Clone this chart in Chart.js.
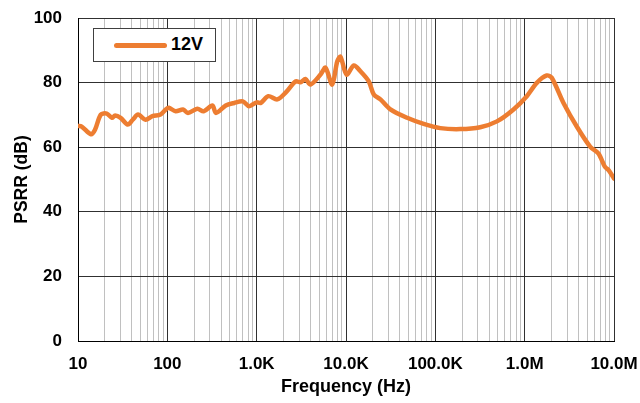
<!DOCTYPE html>
<html><head><meta charset="utf-8">
<script src="https://cdn.jsdelivr.net/npm/chart.js@4"></script>
<style>
html,body{margin:0;padding:0;background:#fff;}
#wrap{position:relative;width:640px;height:403px;}
#legend{position:absolute;left:93px;top:28px;width:123px;height:34px;border:1px solid #404040;background:#fff;box-sizing:border-box;font:bold 18px "Liberation Sans",Arial,sans-serif;color:#000;}
#legend .ln{position:absolute;left:20px;top:14px;width:53px;height:5px;border-radius:3px;background:#ED7D31;}
#legend .tx{position:absolute;left:77px;top:5px;}
</style></head>
<body><div id="wrap"><canvas id="c" width="640" height="403"></canvas>
<div id="legend"><div class="ln"></div><div class="tx" id="legtext"></div></div></div>
<script>
const seriesName = '12V';
const freqHz = [10, 11, 14, 15.5, 18, 21, 24, 26, 30, 36, 41, 47, 57, 68, 84, 96, 104, 124, 150, 170, 217, 255, 320, 350, 451, 560, 700, 820, 1000, 1110, 1350, 1700, 2110, 2730, 3100, 3520, 4000, 5190, 5900, 7010, 7980, 8670, 10140, 12240, 14530, 17980, 20460, 24300, 31400, 48300, 74000, 113700, 190000, 318000, 489000, 750000, 1057000, 1367000, 1770000, 2010000, 2720000, 3830000, 5400000, 6680000, 7930000, 8700000, 10000000];
const psrrDb = [66.6, 66.4, 64.0, 65.4, 70.1, 70.4, 69.1, 69.8, 69.1, 67.0, 68.5, 70.1, 68.5, 69.6, 70.1, 71.7, 72.2, 71.1, 71.7, 70.6, 71.9, 71.1, 72.9, 70.6, 72.9, 73.7, 74.2, 72.7, 73.9, 73.7, 75.8, 74.8, 76.9, 80.4, 80.1, 81.1, 79.4, 82.5, 84.6, 79.4, 86.6, 88.0, 82.5, 85.3, 83.5, 80.4, 76.3, 74.8, 71.7, 69.1, 67.2, 65.9, 65.6, 66.2, 68.0, 71.7, 75.8, 79.9, 82.2, 81.5, 73.7, 66.4, 60.2, 58.1, 53.9, 52.9, 50.3];
const xTickValues = [10, 100, 1000, 10000, 100000, 1000000, 10000000];
const xTickLabels = ['10', '100', '1.0K', '10.0K', '100.0K', '1.0M', '10.0M'];
const yTickValues = [0, 20, 40, 60, 80, 100];

document.getElementById('legtext').textContent = seriesName;
const FONT = '"Liberation Sans", Arial, sans-serif';
const isMajor = v => xTickValues.some(t => Math.abs(v - t) / t < 1e-6);

new Chart(document.getElementById('c'), {
  type: 'line',
  data: { datasets: [{
    label: seriesName,
    data: freqHz.map((f, i) => ({ x: f, y: psrrDb[i] })),
    borderColor: '#ED7D31', borderWidth: 4.5, pointRadius: 0, tension: 0.3,
    borderCapStyle: 'round', borderJoinStyle: 'round', fill: false
  }]},
  options: {
    responsive: false, animation: false,
    layout: { padding: { left: 0, right: 26, top: 18, bottom: 0 } },
    plugins: { legend: { display: false }, tooltip: { enabled: false } },
    scales: {
      x: {
        type: 'logarithmic', min: 10, max: 10000000,
        afterBuildTicks: s => {
          const t = [];
          for (let d = 10; d < 10000000; d *= 10) for (let k = 1; k <= 9; k++) t.push({ value: k * d });
          t.push({ value: 10000000 });
          s.ticks = t;
        },
        afterFit: s => { s.height = 62; s.paddingLeft = 0; s.paddingRight = 0; },
        ticks: {
          autoSkip: false, maxRotation: 0, minRotation: 0, padding: 13, color: '#000',
          font: { family: FONT, size: 17, weight: 'bold' },
          callback: v => { const i = xTickValues.findIndex(t => Math.abs(v - t) / t < 1e-6); return i >= 0 ? xTickLabels[i] : ''; }
        },
        grid: { drawTicks: false, tickLength: 0, lineWidth: 1,
          color: c => isMajor(c.tick.value) ? '#303030' : '#c0c0c0' },
        border: { color: '#000', width: 1 },
        title: { display: true, text: 'Frequency (Hz)', color: '#000', font: { family: FONT, size: 18, weight: 'bold' }, padding: { top: 0, bottom: 5 } }
      },
      y: {
        min: 0, max: 100,
        afterBuildTicks: s => { s.ticks = yTickValues.map(v => ({ value: v })); },
        afterFit: s => { s.width = 78; s.paddingTop = 0; s.paddingBottom = 0; },
        ticks: { padding: 16, color: '#000', font: { family: FONT, size: 17, weight: 'bold' } },
        grid: { drawTicks: false, tickLength: 0, color: '#303030', lineWidth: 1 },
        border: { color: '#000', width: 1 },
        title: { display: true, text: 'PSRR (dB)', color: '#000', font: { family: FONT, size: 17.5, weight: 'bold' }, padding: { top: 12, bottom: 0 } }
      }
    }
  }
});
</script></body></html>
